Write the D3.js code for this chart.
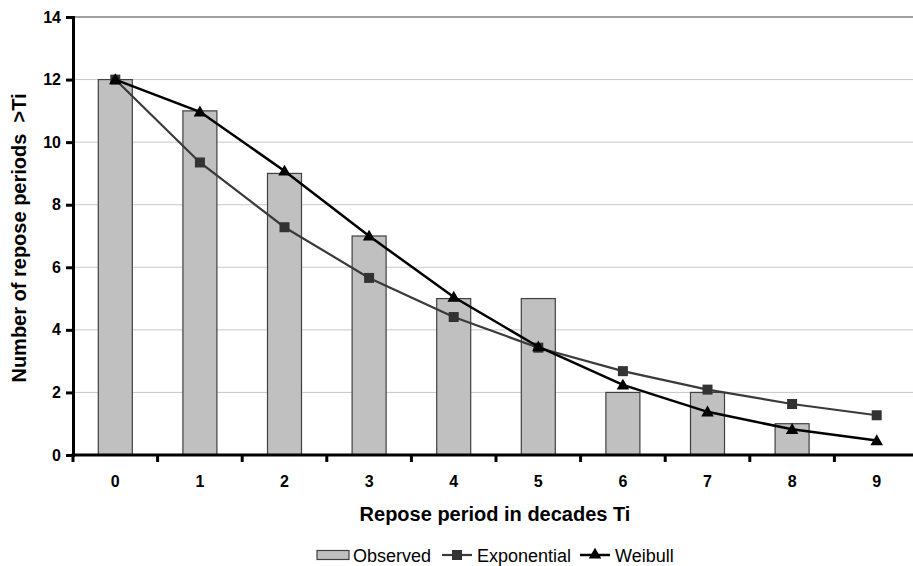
<!DOCTYPE html>
<html>
<head>
<meta charset="utf-8">
<script src="https://cdn.jsdelivr.net/npm/d3@7"></script>
<style>
  body { margin: 0; background: #fff; }
  text { font-family: "Liberation Sans", Arial, sans-serif; }
</style>
</head>
<body>
<div id="chart"></div>
<script>
// data
const categories = ["0", "1", "2", "3", "4", "5", "6", "7", "8", "9"];
const observed = [12, 11, 9, 7, 5, 5, 2, 2, 1, 0];
const exponential = [12, 9.35, 7.28, 5.66, 4.41, 3.43, 2.68, 2.09, 1.63, 1.27];
const weibull = [12, 10.97, 9.08, 7.0, 5.05, 3.46, 2.24, 1.38, 0.82, 0.46];
const yTicks = [0, 2, 4, 6, 8, 10, 12, 14];

const width = 913, height = 566;
const margin = { top: 17, right: -6, bottom: 111, left: 73 };

const svg = d3.select("#chart").append("svg")
  .attr("width", width)
  .attr("height", height);

const x = d3.scaleBand()
  .domain(categories)
  .range([margin.left, width - margin.right]);

const y = d3.scaleLinear()
  .domain([0, 14])
  .range([height - margin.bottom, margin.top]);

// gridlines
svg.append("g")
  .selectAll("line")
  .data(yTicks.filter(d => d > 0))
  .enter()
  .append("line")
  .attr("x1", margin.left)
  .attr("x2", width)
  .attr("y1", d => y(d))
  .attr("y2", d => y(d))
  .attr("stroke", d => d === 14 ? "#a0a0a0" : "#c8c8c8")
  .attr("stroke-width", d => d === 14 ? 2 : 1);

// bars
const barW = 34;
svg.append("g")
  .selectAll("rect")
  .data(observed.map((v, i) => ({ cat: categories[i], v })))
  .enter()
  .append("rect")
  .attr("x", d => x(d.cat) + x.bandwidth() / 2 - barW / 2)
  .attr("y", d => y(d.v))
  .attr("width", barW)
  .attr("height", d => y(0) - y(d.v))
  .attr("fill", "#c0c0c0")
  .attr("stroke", "#404040")
  .attr("stroke-width", 1.2)
  .style("display", d => d.v > 0 ? null : "none");

const cx = d => x(d) + x.bandwidth() / 2;

const line = d3.line()
  .x((d, i) => cx(categories[i]))
  .y(d => y(d));

// exponential
svg.append("path")
  .datum(exponential)
  .attr("d", line)
  .attr("fill", "none")
  .attr("stroke", "#3a3a3a")
  .attr("stroke-width", 2.2);

svg.append("g")
  .selectAll("rect")
  .data(exponential)
  .enter()
  .append("rect")
  .attr("x", (d, i) => cx(categories[i]) - 5)
  .attr("y", d => y(d) - 5)
  .attr("width", 10)
  .attr("height", 10)
  .attr("fill", "#333");

// weibull
svg.append("path")
  .datum(weibull)
  .attr("d", line)
  .attr("fill", "none")
  .attr("stroke", "#000")
  .attr("stroke-width", 2.5);

const tri = d3.symbol().type(d3.symbolTriangle).size(68);
svg.append("g")
  .selectAll("path")
  .data(weibull)
  .enter()
  .append("path")
  .attr("d", tri)
  .attr("transform", (d, i) => `translate(${cx(categories[i])},${y(d) + 1})`)
  .attr("fill", "#000");

// axes
const yAxis = svg.append("g")
  .attr("transform", `translate(${margin.left},0)`)
  .call(d3.axisLeft(y).tickValues(yTicks).tickSize(7).tickPadding(5));
yAxis.select(".domain").attr("stroke", "#000").attr("stroke-width", 3);
yAxis.selectAll(".tick line").attr("stroke", "#000").attr("stroke-width", 3);
yAxis.selectAll(".tick text")
  .attr("font-size", 16).attr("font-weight", "bold").attr("fill", "#000")
  .attr("font-family", "'Liberation Sans', Arial, sans-serif");

const xAxis = svg.append("g")
  .attr("transform", `translate(0,${y(0)})`);
xAxis.append("line")
  .attr("x1", margin.left - 1.5)
  .attr("x2", width)
  .attr("stroke", "#000")
  .attr("stroke-width", 3);
xAxis.selectAll(".sep")
  .data(categories)
  .enter()
  .append("line")
  .attr("x1", d => x(d))
  .attr("x2", d => x(d))
  .attr("y1", 0)
  .attr("y2", 7)
  .attr("stroke", "#000")
  .attr("stroke-width", 3);
xAxis.selectAll(".lbl")
  .data(categories)
  .enter()
  .append("text")
  .attr("x", d => cx(d))
  .attr("y", 32)
  .attr("text-anchor", "middle")
  .attr("font-size", 16)
  .attr("font-weight", "bold")
  .text(d => d);

// axis titles
svg.append("text")
  .attr("x", 495)
  .attr("y", 521)
  .attr("text-anchor", "middle")
  .attr("font-size", 20)
  .attr("font-weight", "bold")
  .text("Repose period in decades Ti");

svg.append("text")
  .attr("transform", `translate(26,${y(7) + 2}) rotate(-90)`)
  .attr("text-anchor", "middle")
  .attr("font-size", 20)
  .attr("font-weight", "bold")
  .style("white-space", "pre")
  .attr("xml:space", "preserve")
  .text("Number of repose periods  >Ti");

// legend
const lg = svg.append("g").attr("transform", "translate(317,555)");
lg.append("rect")
  .attr("x", 0).attr("y", -4.5).attr("width", 32).attr("height", 9)
  .attr("fill", "#c0c0c0").attr("stroke", "#404040").attr("stroke-width", 1.2);
lg.append("text").attr("x", 36).attr("y", 6.5).attr("font-size", 18).text("Observed");

lg.append("line").attr("x1", 125).attr("x2", 155).attr("stroke", "#3a3a3a").attr("stroke-width", 2.2);
lg.append("rect").attr("x", 135).attr("y", -5).attr("width", 10).attr("height", 10).attr("fill", "#333");
lg.append("text").attr("x", 160).attr("y", 6.5).attr("font-size", 18).text("Exponential");

lg.append("line").attr("x1", 263).attr("x2", 293).attr("stroke", "#000").attr("stroke-width", 2.5);
lg.append("path").attr("d", tri).attr("transform", "translate(278,0)").attr("fill", "#000");
lg.append("text").attr("x", 298).attr("y", 6.5).attr("font-size", 18).text("Weibull");
</script>
</body>
</html>
